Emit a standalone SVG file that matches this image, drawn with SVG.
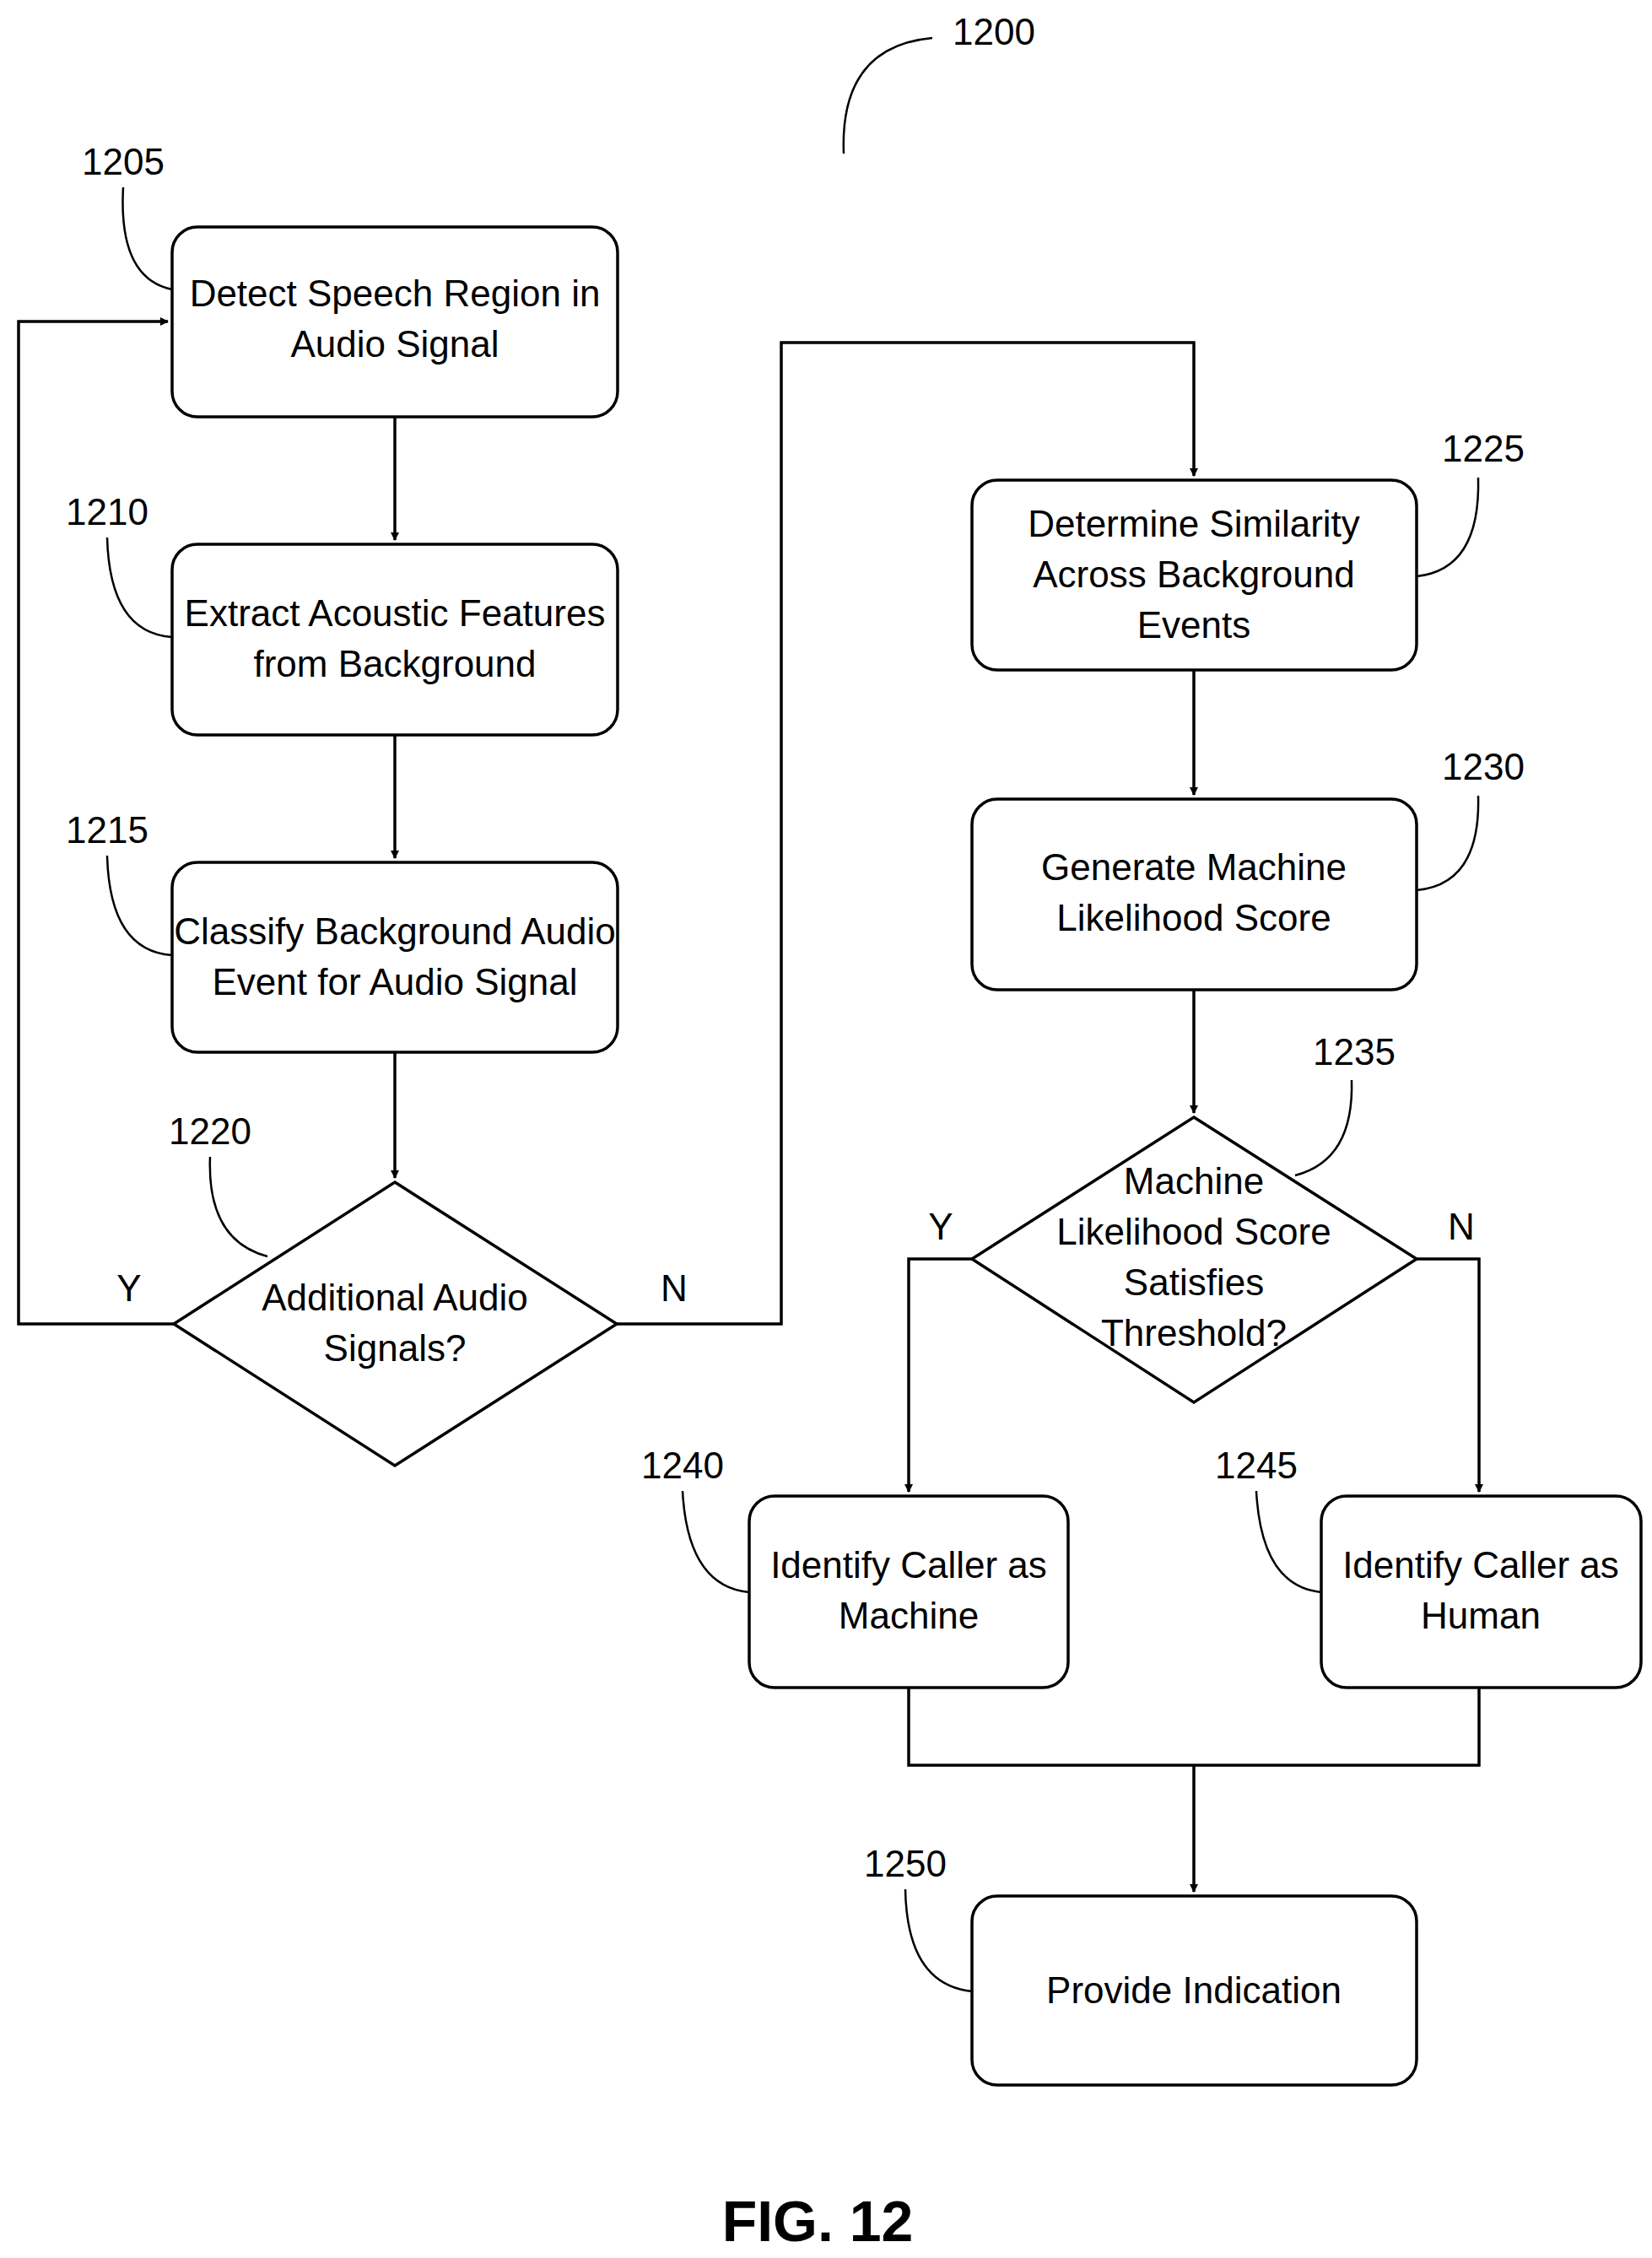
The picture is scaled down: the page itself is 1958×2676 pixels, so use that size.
<svg xmlns="http://www.w3.org/2000/svg" width="1958" height="2676" viewBox="0 0 1958 2676">
<defs>
<style>
.b{fill:#fff;stroke:#000;stroke-width:3.5}
.c{fill:none;stroke:#000;stroke-width:3.5}
.l{fill:none;stroke:#000;stroke-width:2.5}
text{font-family:"Liberation Sans",Arial,sans-serif;font-size:44px;text-anchor:middle;fill:#000}
</style>
<marker id="a" markerWidth="10" markerHeight="10" refX="9" refY="5" orient="auto" markerUnits="userSpaceOnUse" viewBox="0 0 10 10"><path d="M0,0 L10,5 L0,10 z"/></marker>
</defs>
<rect width="1958" height="2676" fill="#fff"/>
<g id="connectors">
<path class="c" d="M468,494 V640" marker-end="url(#a)"/>
<path class="c" d="M468,871 V1017" marker-end="url(#a)"/>
<path class="c" d="M468,1247 V1396" marker-end="url(#a)"/>
<path class="c" d="M206,1569 H22 V381 H199" marker-end="url(#a)"/>
<path class="c" d="M731,1569 H926 V406 H1415 V564" marker-end="url(#a)"/>
<path class="c" d="M1415,794 V942" marker-end="url(#a)"/>
<path class="c" d="M1415,1173 V1319" marker-end="url(#a)"/>
<path class="c" d="M1152,1492 H1077 V1768" marker-end="url(#a)"/>
<path class="c" d="M1679,1492 H1753 V1768" marker-end="url(#a)"/>
<path class="c" d="M1077,2000 V2092 H1753 V2000"/>
<path class="c" d="M1415,2092 V2242" marker-end="url(#a)"/>
<text x="153" y="1542">Y</text>
<text x="799" y="1542">N</text>
<text x="1115" y="1469">Y</text>
<text x="1732" y="1469">N</text>
</g>
<g id="n1200"><text x="1178" y="53">1200</text><path class="l" d="M1000,182 Q995,55 1105,45"/></g>
<g id="n1205"><rect class="b" x="204" y="269" width="528" height="225" rx="30"/><text x="468" y="363">Detect Speech Region in</text><text x="468" y="423">Audio Signal</text><text x="146" y="207">1205</text><path class="l" d="M146,222 Q140,330 204,343"/></g>
<g id="n1210"><rect class="b" x="204" y="645" width="528" height="226" rx="30"/><text x="468" y="742">Extract Acoustic Features</text><text x="468" y="802">from Background</text><text x="127" y="622">1210</text><path class="l" d="M127,637 Q130,750 204,755"/></g>
<g id="n1215"><rect class="b" x="204" y="1022" width="528" height="225" rx="30"/><text x="468" y="1119">Classify Background Audio</text><text x="468" y="1179">Event for Audio Signal</text><text x="127" y="999">1215</text><path class="l" d="M127,1014 Q130,1127 204,1132"/></g>
<g id="n1220"><path class="b" d="M468,1401 L731,1569 L468,1737 L206,1569 Z"/><text x="468" y="1553">Additional Audio</text><text x="468" y="1613">Signals?</text><text x="249" y="1356">1220</text><path class="l" d="M249,1371 Q245,1470 317,1489"/></g>
<g id="n1225"><rect class="b" x="1152" y="569" width="527" height="225" rx="30"/><text x="1415" y="636">Determine Similarity</text><text x="1415" y="696">Across Background</text><text x="1415" y="756">Events</text><text x="1758" y="547">1225</text><path class="l" d="M1752,566 Q1755,675 1679,683"/></g>
<g id="n1230"><rect class="b" x="1152" y="947" width="527" height="226" rx="30"/><text x="1415" y="1043">Generate Machine</text><text x="1415" y="1103">Likelihood Score</text><text x="1758" y="924">1230</text><path class="l" d="M1752,943 Q1755,1048 1679,1055"/></g>
<g id="n1235"><path class="b" d="M1415,1324 L1679,1492 L1415,1662 L1152,1492 Z"/><text x="1415" y="1415">Machine</text><text x="1415" y="1475">Likelihood Score</text><text x="1415" y="1535">Satisfies</text><text x="1415" y="1595">Threshold?</text><text x="1605" y="1262">1235</text><path class="l" d="M1602,1280 Q1605,1375 1535,1393"/></g>
<g id="n1240"><rect class="b" x="888" y="1773" width="378" height="227" rx="30"/><text x="1077" y="1870">Identify Caller as</text><text x="1077" y="1930">Machine</text><text x="809" y="1752">1240</text><path class="l" d="M809,1767 Q815,1880 888,1887"/></g>
<g id="n1245"><rect class="b" x="1566" y="1773" width="379" height="227" rx="30"/><text x="1755" y="1870">Identify Caller as</text><text x="1755" y="1930">Human</text><text x="1489" y="1752">1245</text><path class="l" d="M1489,1767 Q1495,1880 1566,1887"/></g>
<g id="n1250"><rect class="b" x="1152" y="2247" width="527" height="224" rx="30"/><text x="1415" y="2374">Provide Indication</text><text x="1073" y="2224">1250</text><path class="l" d="M1073,2239 Q1075,2352 1152,2360"/></g>
<text x="969" y="2656" style="font-size:68px;font-weight:bold">FIG. 12</text>
</svg>
